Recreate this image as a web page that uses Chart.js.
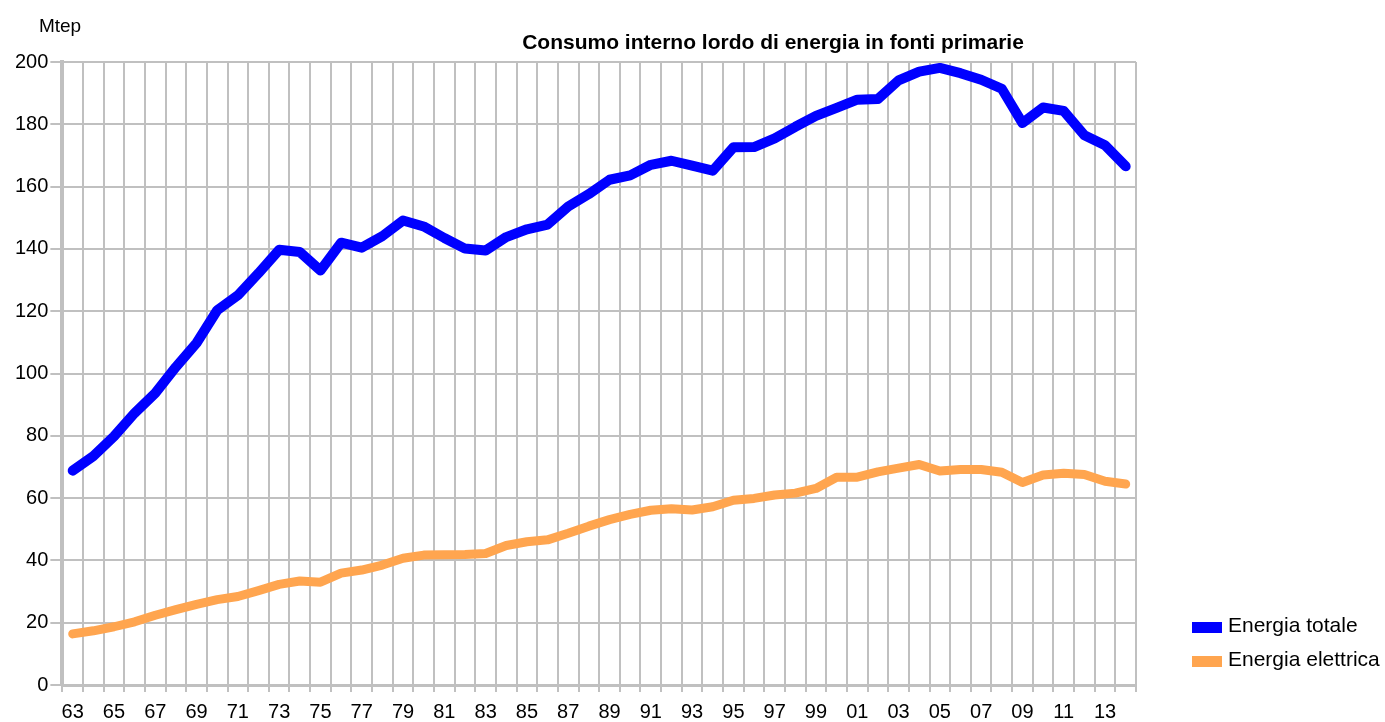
<!DOCTYPE html>
<html>
<head>
<meta charset="utf-8">
<script src="https://cdn.jsdelivr.net/npm/chart.js@4.4.1/dist/chart.umd.min.js"></script>
<style>
  html, body { margin: 0; padding: 0; background: #fff; }
</style>
</head>
<body>
<canvas id="myChart" width="1385" height="722"></canvas>
<script>
const anni = [
  "63", "64", "65", "66", "67", "68", "69", "70", "71", "72",
  "73", "74", "75", "76", "77", "78", "79", "80", "81", "82",
  "83", "84", "85", "86", "87", "88", "89", "90", "91", "92",
  "93", "94", "95", "96", "97", "98", "99", "00", "01", "02",
  "03", "04", "05", "06", "07", "08", "09", "10", "11", "12",
  "13", "14"
];

const energiaTotale = [
  68.8, 73.5, 79.8, 87.3, 93.7, 102.1, 109.8, 120.3, 125.1, 132.2,
  139.7, 139.0, 133.1, 142.0, 140.4, 144.1, 149.1, 147.2, 143.5, 140.1,
  139.5, 143.8, 146.3, 147.8, 153.6, 157.6, 162.2, 163.6, 167.0, 168.3,
  166.7, 165.1, 172.6, 172.7, 175.5, 179.2, 182.7, 185.3, 187.9, 188.1,
  194.1, 196.9, 198.1, 196.4, 194.3, 191.4, 180.4, 185.4, 184.3, 176.5,
  173.3, 166.5
];

const energiaElettrica = [
  16.4, 17.4, 18.7, 20.3, 22.4, 24.2, 25.9, 27.4, 28.4, 30.3,
  32.3, 33.4, 33.0, 35.9, 36.9, 38.5, 40.7, 41.7, 41.8, 41.9,
  42.2, 44.8, 46.0, 46.6, 48.7, 51.0, 53.1, 54.8, 56.1, 56.6,
  56.2, 57.2, 59.3, 59.9, 61.0, 61.6, 63.1, 66.7, 66.7, 68.4,
  69.6, 70.8, 68.7, 69.2, 69.2, 68.3, 65.0, 67.4, 68.0, 67.6,
  65.4, 64.5
];

const titolo = "Consumo interno lordo di energia in fonti primarie";
const unita = "Mtep";
const FONT = "'Liberation Sans', Arial, sans-serif";
const grigio = "#c0c0c0";

// titolo, unità e legenda disegnati a mano
const testiExtra = {
  id: "testiExtra",
  afterDraw(chart) {
    const ctx = chart.ctx;
    ctx.save();
    ctx.fillStyle = "#000";
    ctx.textBaseline = "alphabetic";
    ctx.font = "bold 21px " + FONT;
    ctx.textAlign = "center";
    ctx.fillText(titolo, 773, 49);
    ctx.font = "19px " + FONT;
    ctx.fillText(unita, 60, 32);
    ctx.font = "21px " + FONT;
    ctx.textAlign = "left";
    chart.data.datasets.forEach((ds, i) => {
      const y = 622 + i * 34;
      ctx.fillStyle = ds.borderColor;
      ctx.fillRect(1192, y, 30, 11);
      ctx.fillStyle = "#000";
      ctx.fillText(ds.label, 1228, y + 10);
    });
    ctx.restore();
  }
};

const data = {
  labels: anni,
  datasets: [
    {
      label: "Energia totale",
      data: energiaTotale,
      borderColor: "#0000ff",
      backgroundColor: "#0000ff",
      borderWidth: 10,
      pointRadius: 0,
      borderCapStyle: "round",
      borderJoinStyle: "round",
    },
    {
      label: "Energia elettrica",
      data: energiaElettrica,
      borderColor: "#ffa54f",
      backgroundColor: "#ffa54f",
      borderWidth: 9,
      pointRadius: 0,
      borderCapStyle: "round",
      borderJoinStyle: "round",
    },
  ],
};

const config = {
  type: "line",
  data: data,
  plugins: [testiExtra],
  options: {
    responsive: false,
    animation: false,
    layout: {
      padding: { left: 13, right: 249, top: 62, bottom: -10 },
    },
    plugins: {
      legend: { display: false },
      title: { display: false },
      tooltip: { enabled: false },
    },
    scales: {
      x: {
        offset: true,
        grid: {
          offset: true,
          color: grigio,
          lineWidth: 2,
          tickLength: 7,
        },
        border: { color: grigio, width: 3 },
        ticks: {
          autoSkip: false,
          maxRotation: 0,
          padding: 10,
          color: "#000",
          font: { family: FONT, size: 20, lineHeight: 1 },
          callback: function (val, index) {
            return index % 2 === 0 ? this.getLabelForValue(val) : "";
          },
        },
      },
      y: {
        min: 0,
        max: 200,
        grid: {
          color: grigio,
          lineWidth: 2,
          tickLength: 12,
        },
        border: { color: grigio, width: 4 },
        ticks: {
          stepSize: 20,
          padding: 2,
          color: "#000",
          font: { family: FONT, size: 20 },
        },
      },
    },
  },
};

const myChart = new Chart(document.getElementById("myChart"), config);
</script>
</body>
</html>
